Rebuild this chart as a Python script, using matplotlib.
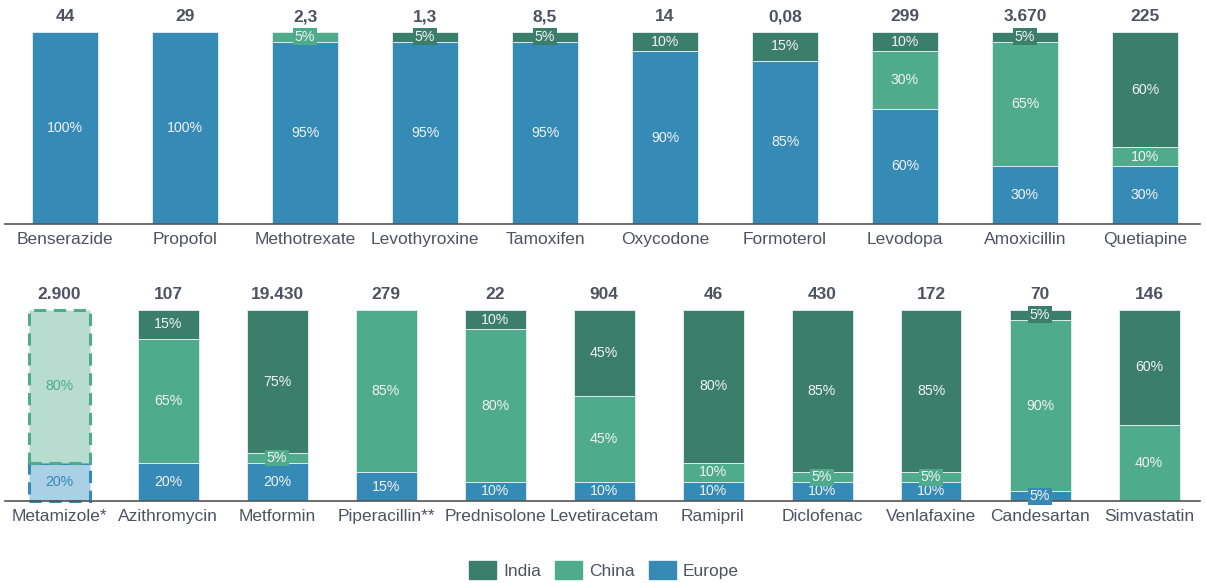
import numpy as np
import matplotlib.pyplot as plt
from matplotlib.patches import Patch

plt.rcParams['font.family'] = ['Liberation Sans', 'DejaVu Sans']

# --- data ---
top_names = ['Benserazide', 'Propofol', 'Methotrexate', 'Levothyroxine', 'Tamoxifen',
             'Oxycodone', 'Formoterol', 'Levodopa', 'Amoxicillin', 'Quetiapine']
top_totals = ['44', '29', '2,3', '1,3', '8,5', '14', '0,08', '299', '3.670', '225']
top_europe = [100, 100, 95, 95, 95, 90, 85, 60, 30, 30]
top_china = [0, 0, 5, 0, 0, 0, 0, 30, 65, 10]
top_india = [0, 0, 0, 5, 5, 10, 15, 10, 5, 60]

bot_names = ['Metamizole*', 'Azithromycin', 'Metformin', 'Piperacillin**', 'Prednisolone',
             'Levetiracetam', 'Ramipril', 'Diclofenac', 'Venlafaxine', 'Candesartan', 'Simvastatin']
bot_totals = ['2.900', '107', '19.430', '279', '22', '904', '46', '430', '172', '70', '146']
bot_europe = [20, 20, 20, 15, 10, 10, 10, 10, 10, 5, 0]
bot_china = [80, 65, 5, 85, 80, 45, 10, 5, 5, 90, 40]
bot_india = [0, 15, 75, 0, 10, 45, 80, 85, 85, 5, 60]

C_INDIA = '#3b7f6a'
C_CHINA = '#4eab8c'
C_EUROPE = '#358ab6'
C_CHINA_L = '#b8ddd0'
C_EUROPE_L = '#a9d0e4'
TXT = '#4d5360'

W, H = 1206, 583
fig = plt.figure(figsize=(W / 100, H / 100), dpi=100)


def draw_row(ax, names, totals, eu, cn, ind, width, dashed_first=False):
    x = np.arange(len(names))
    eu = np.array(eu) / 100
    cn = np.array(cn) / 100
    ind = np.array(ind) / 100
    layers = [(eu, C_EUROPE), (cn, C_CHINA), (ind, C_INDIA)]
    bottom = np.zeros(len(names))
    for vals, col in layers:
        for i in range(len(names)):
            v = vals[i]
            if v <= 0:
                continue
            lbl = f'{int(round(v * 100))}%'
            if dashed_first and i == 0:
                fc = C_EUROPE_L if col == C_EUROPE else C_CHINA_L
                ec = C_EUROPE if col == C_EUROPE else C_CHINA
                ax.bar(x[i], v, width, bottom=bottom[i], color=fc, edgecolor=ec,
                       linewidth=2.2, linestyle=(0, (4, 2.5)), zorder=2, clip_on=False)
                ax.text(x[i], bottom[i] + v / 2, lbl, ha='center', va='center',
                        fontsize=10.2, color=ec, zorder=4)
            else:
                ax.bar(x[i], v, width, bottom=bottom[i], color=col, edgecolor='#dfe9ee',
                       linewidth=0.7, zorder=2)
                box = None
                if v < 0.08:
                    box = dict(boxstyle='square,pad=0.1', fc=col, ec='none')
                ax.text(x[i], bottom[i] + v / 2, lbl, ha='center', va='center',
                        fontsize=10.2, color='#f2f2f2', zorder=4, bbox=box)
        bottom = bottom + vals
    for i in range(len(names)):
        ax.text(x[i], 1.04, totals[i], ha='center', va='bottom', fontsize=12.5,
                fontweight='bold', color=TXT, clip_on=False)
    ax.set_xticks(x)
    ax.set_xticklabels(names, fontsize=12.5, color=TXT)
    ax.tick_params(axis='x', length=0, pad=6)
    ax.set_yticks([])
    for s in ['top', 'left', 'right']:
        ax.spines[s].set_visible(False)
    ax.spines['bottom'].set_color('#555555')
    ax.spines['bottom'].set_linewidth(1.2)
    ax.spines['bottom'].set_zorder(3)
    ax.set_ylim(0, 1)


# top row: centers 65 + 120*i px, axis from x=5 to 1200
ax1 = fig.add_axes([5 / W, 1 - 224 / H, 1195 / W, 192 / H])
draw_row(ax1, top_names, top_totals, top_europe, top_china, top_india, 66 / 120)
ax1.set_xlim((5 - 65) / 120, (1200 - 65) / 120)

# bottom row: centers 59 + 109*i px
ax2 = fig.add_axes([5 / W, 1 - 501 / H, 1195 / W, 191 / H])
draw_row(ax2, bot_names, bot_totals, bot_europe, bot_china, bot_india, 61 / 109,
         dashed_first=True)
ax2.set_xlim((5 - 59) / 109, (1200 - 59) / 109)

handles = [Patch(color=C_INDIA, label='India'), Patch(color=C_CHINA, label='China'),
           Patch(color=C_EUROPE, label='Europe')]
fig.legend(handles=handles, loc='center', bbox_to_anchor=(604 / W, 1 - 570 / H), ncol=3,
           frameon=False, fontsize=12.5, handlelength=1.55, handleheight=1.2,
           columnspacing=0.8, handletextpad=0.42, labelcolor=TXT)

fig.savefig('out.png', dpi=100)
